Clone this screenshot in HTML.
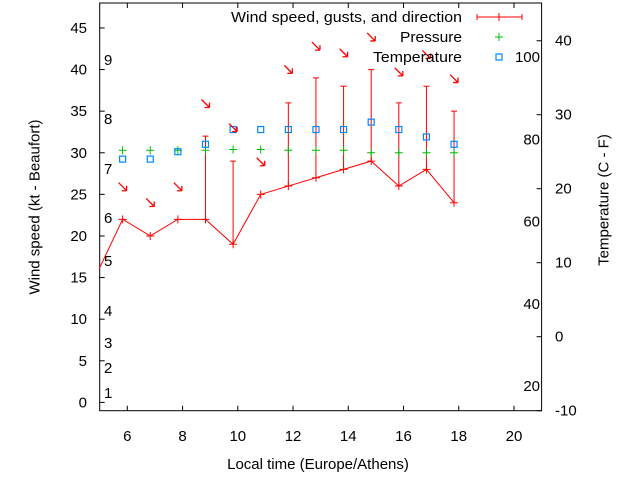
<!DOCTYPE html>
<html><head><meta charset="utf-8"><style>
html,body{margin:0;padding:0;background:#fff;}
svg{display:block;font-family:"Liberation Sans",sans-serif;font-size:15px;}
</style></head><body>
<svg id="chart" width="640" height="480" viewBox="0 0 640 480">
<defs><clipPath id="clip"><rect x="99" y="3" width="443" height="408"/></clipPath></defs>
<g id="grid"></g>
<g id="marks" clip-path="url(#clip)"></g>
<g id="labels"></g>
</svg>
<script>
const hours=[4.83,5.83,6.83,7.83,8.83,9.83,10.83,11.83,12.83,13.83,14.83,15.83,16.83,17.83];
const speed=[15,22,20,22,22,19,25,26,27,28,29,26,28,24];
const gust=[null,null,null,null,32,29,null,36,39,38,40,36,38,35];
const pressure=[null,30.3,30.3,30.3,30.3,30.4,30.4,30.3,30.3,30.3,30.0,30.0,30.0,30.0];
const temperature=[null,24,24,25,26,28,28,28,28,28,29,28,27,26];
const arrowLevel=[null,25.8,23.9,25.8,35.8,32.9,28.8,39.9,42.7,41.9,43.8,39.6,41.7,38.8];
const xTicks=[6,8,10,12,14,16,18,20];
const yTicks=[0,5,10,15,20,25,30,35,40,45];
const y2Ticks=[-10,0,10,20,30,40];
const fTicks=[20,40,60,80,100];
const beaufort=[[1,393],[2,368],[3,343],[4,311],[5,261],[6,218],[7,169],[8,119],[9,60]];
const L=99.7,R=541.6,T=3,B=410.7;
const X=h=>L+(h-5)*(R-L)/16;
const Y=v=>B-(v+1)*(B-T)/49;
const Y2=c=>B-(c+10)*(B-T)/55.1;
const NS="http://www.w3.org/2000/svg";
function mk(tag,attrs,parent,text){const e=document.createElementNS(NS,tag);for(const k in attrs)e.setAttribute(k,attrs[k]);if(text!==undefined)e.textContent=text;parent.appendChild(e);return e;}
const grid=document.getElementById('grid'),marks=document.getElementById('marks'),labels=document.getElementById('labels');
let e=mk('rect',{x:L,y:T,width:R-L,height:B-T,fill:'none',stroke:'#000','stroke-width':1},grid);


xTicks.forEach(t=>{const x=X(t);
mk('line',{x1:x,y1:B,x2:x,y2:B-5,stroke:'#000'},grid);mk('line',{x1:x,y1:T,x2:x,y2:T+5,stroke:'#000'},grid);
e=mk('text',{x:x,y:441,'text-anchor':'middle'},labels,String(t));

});
yTicks.forEach(t=>{const y=Y(t);mk('line',{x1:L,y1:y,x2:L+5,y2:y,stroke:'#000'},grid);
e=mk('text',{x:87,y:y+5,'text-anchor':'end'},labels,String(t));

});
y2Ticks.forEach(t=>{const y=Y2(t);mk('line',{x1:R,y1:y,x2:R-5,y2:y,stroke:'#000'},grid);
e=mk('text',{x:555,y:y+5,'text-anchor':'start'},labels,String(t));

});
fTicks.forEach(f=>{const y=Y2((f-32)*5/9);
e=mk('text',{x:540,y:y+5,'text-anchor':'end'},labels,String(f));

});
beaufort.forEach(b=>{e=mk('text',{x:104,y:b[1]+5},labels,String(b[0]));

});
e=mk('polyline',{points:hours.map((h,i)=>X(h)+','+Y(speed[i])).join(' '),fill:'none',stroke:'#f00','stroke-width':1},marks);


hours.forEach((h,i)=>{const x=X(h),y=Y(speed[i]);
e=mk('path',{d:`M${x-4},${y}h8M${x},${y-4}v8`,stroke:'#f00'},marks);


if(gust[i]!==null){const g=Y(gust[i]);
e=mk('path',{d:`M${x},${y}V${g}M${x-3},${g}h6`,stroke:'#f00'},marks);

}
if(pressure[i]!==null){const p=Y(pressure[i]);
e=mk('path',{d:`M${x-4},${p}h8M${x},${p-4}v8`,stroke:'#0b0'},marks);

}
if(temperature[i]!==null){const t=Y2(temperature[i]);
e=mk('rect',{x:x-3,y:t-3,width:6,height:6,fill:'none',stroke:'#08f','stroke-width':1.2},marks);

}
if(arrowLevel[i]!==null){const a=Y(arrowLevel[i]);
e=mk('path',{d:`M${x-4},${a-5}L${x+4},${a+3}M${x+4},${a+3}l-5,0M${x+4},${a+3}l0,-5`,stroke:'#f00','stroke-width':1.3,fill:'none'},marks);

}
});
e=mk('text',{x:462,y:22,'text-anchor':'end',textLength:231,lengthAdjust:'spacingAndGlyphs'},labels,'Wind speed, gusts, and direction');


e=mk('path',{d:'M477,17h45M477,14v6M522,14v6M499,13v8',stroke:'#f00'},labels);


e=mk('text',{x:462,y:42,'text-anchor':'end',textLength:62,lengthAdjust:'spacingAndGlyphs'},labels,'Pressure');


e=mk('path',{d:'M495,37h8M499,33v8',stroke:'#0b0'},labels);


e=mk('text',{x:462,y:62,'text-anchor':'end',textLength:89,lengthAdjust:'spacingAndGlyphs'},labels,'Temperature');


e=mk('rect',{x:496,y:54,width:6,height:6,fill:'none',stroke:'#08f','stroke-width':1.2},labels);


</script>
<div style="position:absolute;left:0;top:0;width:640px;height:480px;pointer-events:none;font-family:'Liberation Sans',sans-serif;font-size:15px;">
<div style="position:absolute;left:0;width:636px;top:456px;text-align:center;">Local time (Europe/Athens)</div>
<div style="position:absolute;left:35px;top:207px;transform:translate(-50%,-50%) rotate(-90deg);white-space:nowrap;">Wind speed (kt - Beaufort)</div>
<div style="position:absolute;left:604px;top:200px;transform:translate(-50%,-50%) rotate(-90deg);white-space:nowrap;">Temperature (C - F)</div>
</div>
</body></html>
